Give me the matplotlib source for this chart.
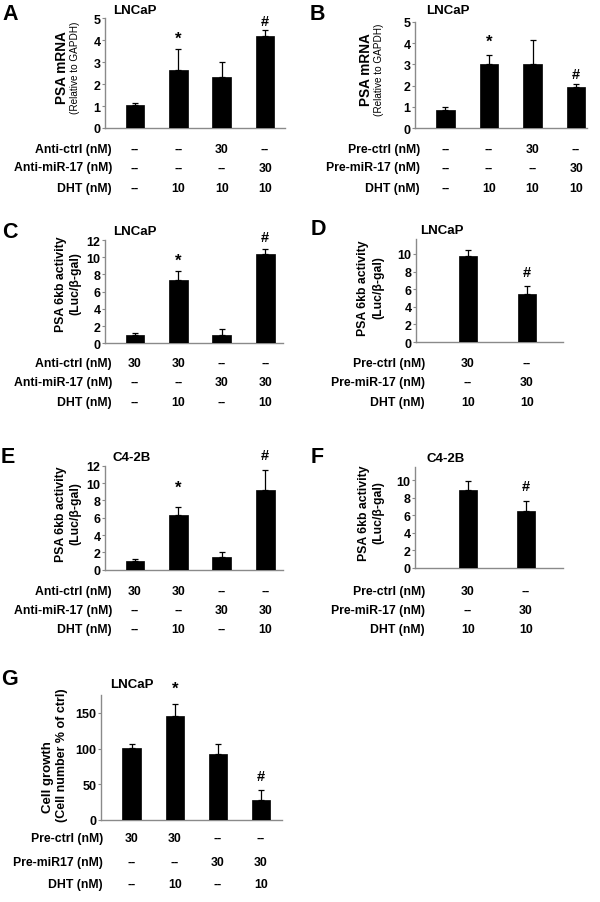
import matplotlib
matplotlib.use("Agg")
import matplotlib.pyplot as plt
import matplotlib.transforms as mtrans
import numpy as np

plt.rcParams['font.family'] = ['Liberation Sans', 'DejaVu Sans']
plt.rcParams['font.weight'] = 'bold'

W, H = 600, 903

# ---------------- data ----------------
A_vals = [1.05, 2.66, 2.31, 4.21]
A_err = [0.07, 0.94, 0.68, 0.26]
A_rows = ["Anti-ctrl (nM)", "Anti-miR-17 (nM)", "DHT (nM)"]
A_cells = [["--", "--", "30", "--"], ["--", "--", "--", "30"], ["--", "10", "10", "10"]]

B_vals = [0.87, 3.00, 3.03, 1.94]
B_err = [0.13, 0.45, 1.12, 0.14]
B_rows = ["Pre-ctrl (nM)", "Pre-miR-17 (nM)", "DHT (nM)"]
B_cells = [["--", "--", "30", "--"], ["--", "--", "--", "30"], ["--", "10", "10", "10"]]

C_vals = [0.97, 7.39, 0.97, 10.37]
C_err = [0.23, 0.97, 0.69, 0.63]
C_rows = ["Anti-ctrl (nM)", "Anti-miR-17 (nM)", "DHT (nM)"]
C_cells = [["30", "30", "--", "--"], ["--", "--", "30", "30"], ["--", "10", "--", "10"]]

D_vals = [9.8, 5.5]
D_err = [0.6, 0.9]
D_rows = ["Pre-ctrl (nM)", "Pre-miR-17 (nM)", "DHT (nM)"]
D_cells = [["30", "--"], ["--", "30"], ["10", "10"]]

E_vals = [0.97, 6.34, 1.43, 9.19]
E_err = [0.26, 0.86, 0.65, 2.31]
E_rows = ["Anti-ctrl (nM)", "Anti-miR-17 (nM)", "DHT (nM)"]
E_cells = [["30", "30", "--", "--"], ["--", "--", "30", "30"], ["--", "10", "--", "10"]]

F_vals = [8.9, 6.5]
F_err = [0.95, 1.15]
F_rows = ["Pre-ctrl (nM)", "Pre-miR-17 (nM)", "DHT (nM)"]
F_cells = [["30", "--"], ["--", "30"], ["10", "10"]]

G_vals = [100.5, 145, 92.6, 28.4]
G_err = [6.5, 18, 14.4, 13.6]
G_rows = ["Pre-ctrl (nM)", "Pre-miR17 (nM)", "DHT (nM)"]
G_cells = [["30", "30", "--", "--"], ["--", "--", "30", "30"], ["--", "10", "--", "10"]]

# significance marks: (bar index, symbol, y in data units)
A_marks = [(1, "*", 4.09), (3, "#", 4.89)]
B_marks = [(1, "*", 4.08), (3, "#", 2.54)]
C_marks = [(1, "*", 9.6), (3, "#", 12.35)]
D_marks = [(1, "#", 7.95)]
E_marks = [(1, "*", 9.5), (3, "#", 13.2)]
F_marks = [(1, "#", 9.35)]
G_marks = [(1, "*", 184), (3, "#", 61.5)]

fig = plt.figure(figsize=(W / 100, H / 100), dpi=100)
fig.patch.set_facecolor("white")
px = mtrans.Affine2D().scale(1 / W, -1 / H).translate(0, 1) + fig.transFigure

AXC = "#8a8a8a"


def panel(letter, letter_xy, box, xlim, ylim, yticks, vals, errs, width,
          title, title_xy, ylab1, ylab1_xy, ylab1_size, ylab2, ylab2_xy, ylab2_size, ylab2_weight,
          rows, cells, row_x, row_ys, marks):
    left, right, top, bottom = box
    ax = fig.add_axes([left / W, 1 - bottom / H, (right - left) / W, (bottom - top) / H])
    x = np.arange(len(vals))
    ax.bar(x, vals, width=width, color="black", edgecolor="black", linewidth=0.5,
           yerr=[np.zeros(len(vals)), errs],
           error_kw=dict(ecolor="black", elinewidth=0.9, capsize=2.2, capthick=0.9),
           zorder=3)
    ax.set_xlim(*xlim)
    ax.set_ylim(*ylim)
    ax.set_yticks(yticks)
    ax.set_yticklabels([str(t) for t in yticks], fontsize=9, fontweight="bold")
    ax.set_xticks([])
    for s in ["top", "right"]:
        ax.spines[s].set_visible(False)
    for s in ["left", "bottom"]:
        ax.spines[s].set_color(AXC)
        ax.spines[s].set_linewidth(1.0)
    ax.tick_params(axis="y", length=2, width=0.8, color=AXC, pad=1.2)
    ax.patch.set_alpha(0)
    for i, sym, yv in marks:
        ax.text(i, yv, sym, ha="center", va="center",
                fontsize=12 if sym == "*" else 10.5, fontweight="bold",
                clip_on=False)
    fig.text(letter_xy[0], letter_xy[1], letter, transform=px, ha="left", va="center",
             fontsize=15.5, fontweight="bold")
    fig.text(title_xy[0], title_xy[1], title, transform=px, ha="center", va="center",
             fontsize=9.5, fontweight="bold")
    fig.text(ylab1_xy[0], ylab1_xy[1], ylab1, transform=px, ha="center", va="center",
             rotation=90, fontsize=ylab1_size, fontweight="bold")
    fig.text(ylab2_xy[0], ylab2_xy[1], ylab2, transform=px, ha="center", va="center",
             rotation=90, fontsize=ylab2_size, fontweight=ylab2_weight)
    bt = mtrans.blended_transform_factory(ax.transData, px)
    for r, (lab, yy) in enumerate(zip(rows, row_ys)):
        fig.text(row_x, yy, lab, transform=px, ha="right", va="center",
                 fontsize=8.8, fontweight="bold")
        for i, c in enumerate(cells[r]):
            ax.text(i, yy, c, transform=bt, ha="center", va="center",
                    fontsize=8.8, fontweight="bold", clip_on=False)
    return ax


panel("A", (2, 15), (105, 285, 19.3, 129), (-0.69, 3.46), (0, 5), [0, 1, 2, 3, 4, 5],
      A_vals, A_err, 0.43, "LNCaP", (134.5, 10.5),
      "PSA mRNA", (61.5, 68), 9.8, "(Relative to GAPDH)", (74.5, 68), 7.2, "normal",
      A_rows, A_cells, 112, [150, 168.5, 189], A_marks)

panel("B", (310, 14), (415, 587, 22.7, 129.3), (-0.70, 3.25), (0, 5), [0, 1, 2, 3, 4, 5],
      B_vals, B_err, 0.43, "LNCaP", (448, 11),
      "PSA mRNA", (366.5, 70), 9.8, "(Relative to GAPDH)", (379.5, 70), 7.2, "normal",
      B_rows, B_cells, 420, [150, 168.5, 189], B_marks)

panel("C", (2, 233), (105, 283, 241, 344.3), (-0.69, 3.41), (0, 12), [0, 2, 4, 6, 8, 10, 12],
      C_vals, C_err, 0.43, "LNCaP", (135, 232),
      "PSA 6kb activity", (61, 284), 8.8, "(Luc/β-gal)", (75, 284), 8.8, "bold",
      C_rows, C_cells, 112, [364, 383, 403], C_marks)

panel("D", (311, 230), (416, 563, 240, 343), (-0.88, 1.61), (0, 11.7), [0, 2, 4, 6, 8, 10],
      D_vals, D_err, 0.32, "LNCaP", (441.7, 231),
      "PSA 6kb activity", (363, 288), 8.8, "(Luc/β-gal)", (378, 288), 8.8, "bold",
      D_rows, D_cells, 425, [364, 383, 403], D_marks)

panel("E", (1, 458), (105, 283, 466.7, 570.7), (-0.69, 3.41), (0, 12), [0, 2, 4, 6, 8, 10, 12],
      E_vals, E_err, 0.43, "C4-2B", (131.7, 458.3),
      "PSA 6kb activity", (61, 514), 8.8, "(Luc/β-gal)", (75, 514), 8.8, "bold",
      E_rows, E_cells, 112, [592, 611, 630], E_marks)

panel("F", (311, 458), (415, 563, 468, 569), (-0.91, 1.64), (0, 11.5), [0, 2, 4, 6, 8, 10],
      F_vals, F_err, 0.32, "C4-2B", (445.7, 459.3),
      "PSA 6kb activity", (364, 513), 8.8, "(Luc/β-gal)", (378, 513), 8.8, "bold",
      F_rows, F_cells, 425, [592, 611, 630], F_marks)

panel("G", (1, 680), (100.7, 281.7, 696, 821), (-0.72, 3.48), (0, 175), [0, 50, 100, 150],
      G_vals, G_err, 0.43, "LNCaP", (131.7, 685),
      "Cell growth", (48.5, 777), 9.5, "(Cell number % of ctrl)", (62.5, 755), 9, "bold",
      G_rows, G_cells, 103, [839, 863, 885], G_marks)

fig.savefig("out.png", dpi=100, facecolor="white")
